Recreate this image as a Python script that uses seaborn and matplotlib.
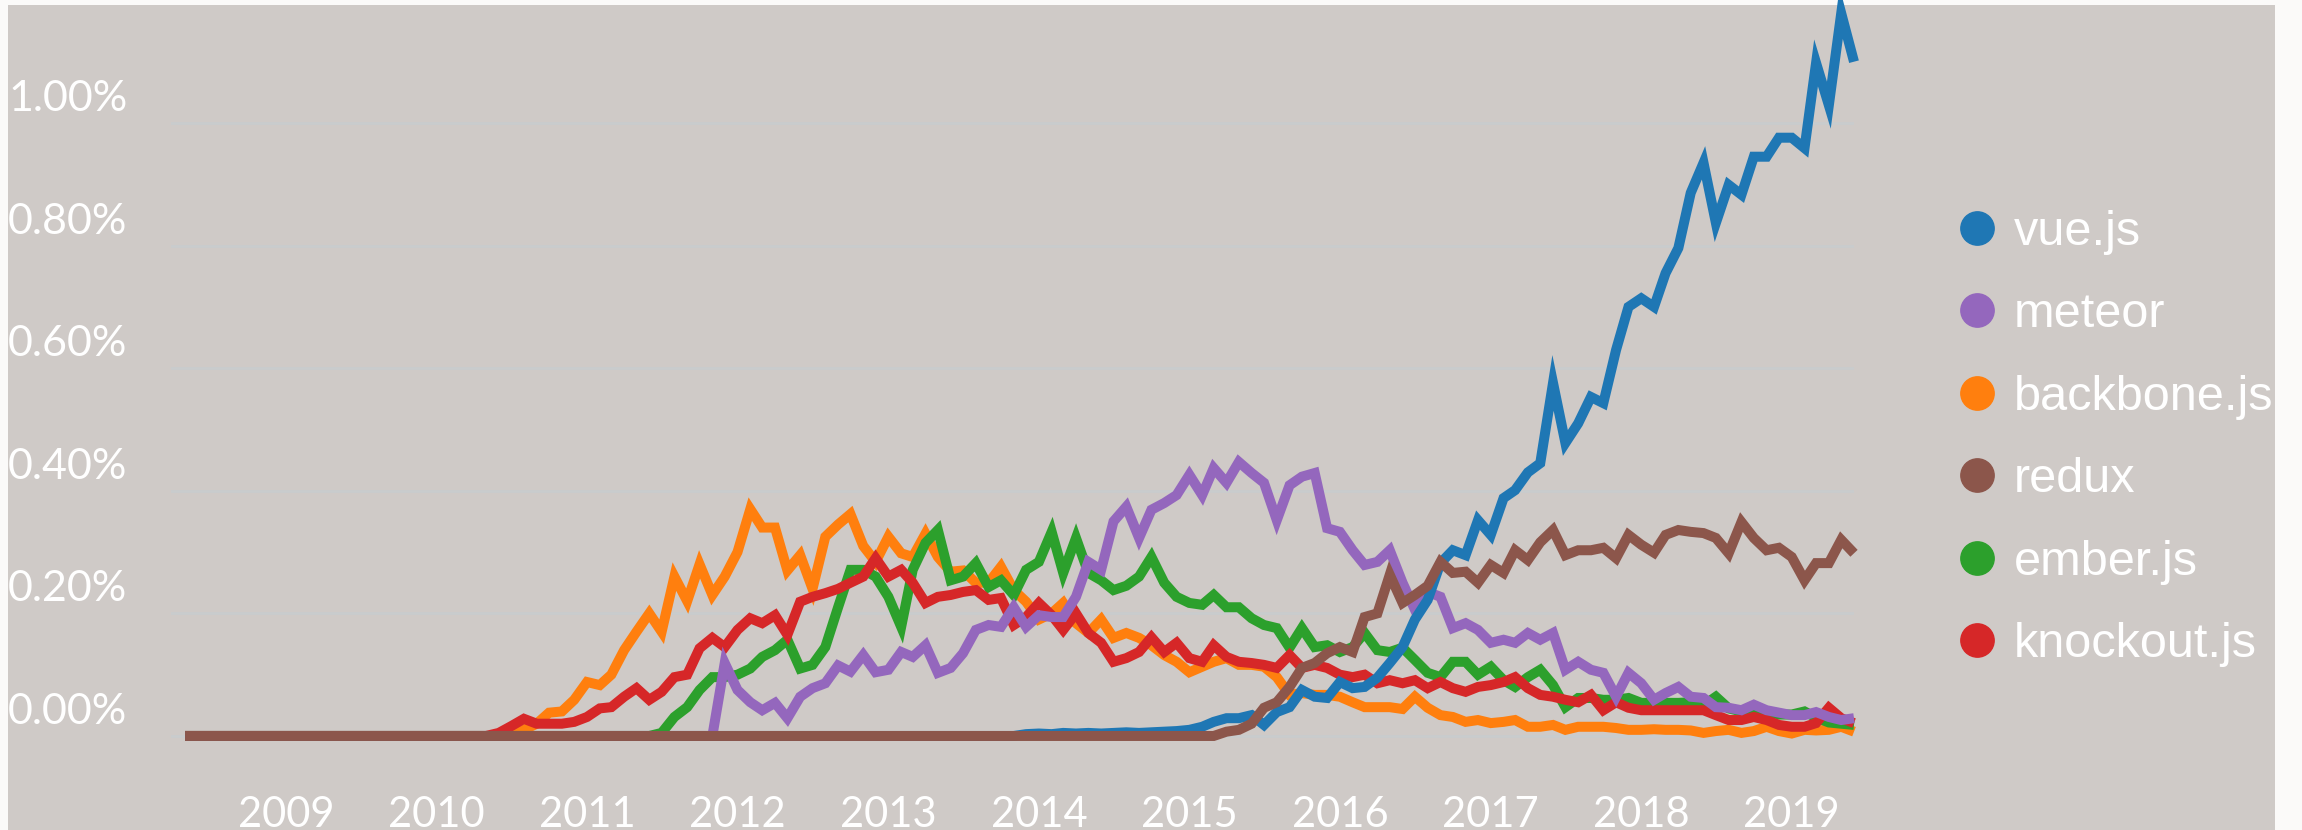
import matplotlib
matplotlib.use("Agg")
import matplotlib.pyplot as plt
import matplotlib.transforms as mtransforms
from matplotlib.lines import Line2D
from matplotlib.patches import Rectangle
import pandas as pd
import seaborn as sns

# monthly share of Stack Overflow questions (%), May 2008 .. Jun 2019
months = pd.date_range("2008-05-01", periods=134, freq="MS")

tags = ["vue.js", "meteor", "backbone.js", "redux", "ember.js", "knockout.js"]
colors = ["#1f77b4", "#9467bd", "#ff7f0e", "#8c564b", "#2ca02c", "#d62728"]
# later in this list = drawn on top
draw_order = ["backbone.js", "ember.js", "knockout.js", "meteor", "vue.js", "redux"]

vue = [
    0, 0, 0, 0, 0, 0, 0, 0,
    0, 0, 0, 0, 0, 0, 0, 0, 0, 0, 0, 0,
    0, 0, 0, 0, 0, 0, 0, 0, 0, 0, 0, 0,
    0, 0, 0, 0, 0, 0, 0, 0, 0, 0, 0, 0,
    0, 0, 0, 0, 0, 0, 0, 0, 0, 0, 0, 0,
    0, 0, 0, 0, 0, 0, 0, 0, 0, 0, 0, 0.003,
    0.004, 0.003, 0.005, 0.004, 0.005, 0.004, 0.005, 0.006, 0.005, 0.006, 0.007, 0.008,
    0.010, 0.015, 0.023, 0.029, 0.029, 0.034, 0.018, 0.039, 0.047, 0.075, 0.064, 0.062,
    0.088, 0.078, 0.080, 0.095, 0.119, 0.145, 0.190, 0.222, 0.282, 0.303, 0.295, 0.352,
    0.328, 0.388, 0.401, 0.430, 0.445, 0.576, 0.478, 0.510, 0.553, 0.543, 0.630, 0.700,
    0.714, 0.700, 0.755, 0.796, 0.886, 0.935, 0.837, 0.899, 0.883, 0.945, 0.945, 0.976,
    0.976, 0.959, 1.098, 1.029, 1.179, 1.100,
]

meteor = [
    0, 0, 0, 0, 0, 0, 0, 0,
    0, 0, 0, 0, 0, 0, 0, 0, 0, 0, 0, 0,
    0, 0, 0, 0, 0, 0, 0, 0, 0, 0, 0, 0,
    0, 0, 0, 0, 0, 0, 0, 0, 0, 0, 0, 0.119,
    0.075, 0.055, 0.042, 0.054, 0.029, 0.064, 0.078, 0.086, 0.115, 0.105, 0.132, 0.104,
    0.108, 0.137, 0.129, 0.148, 0.103, 0.111, 0.135, 0.173, 0.181, 0.178, 0.210, 0.178,
    0.197, 0.194, 0.194, 0.227, 0.284, 0.271, 0.350, 0.374, 0.323, 0.369, 0.380, 0.393,
    0.426, 0.393, 0.437, 0.413, 0.447, 0.429, 0.413, 0.352, 0.409, 0.423, 0.429, 0.339,
    0.333, 0.303, 0.279, 0.284, 0.303, 0.250, 0.206, 0.235, 0.227, 0.176, 0.184, 0.173,
    0.152, 0.157, 0.152, 0.168, 0.157, 0.168, 0.108, 0.121, 0.108, 0.103, 0.064, 0.103,
    0.086, 0.059, 0.070, 0.080, 0.064, 0.062, 0.047, 0.046, 0.042, 0.051, 0.042, 0.038,
    0.034, 0.034, 0.039, 0.031, 0.026, 0.029,
]

backbone = [
    0, 0, 0, 0, 0, 0, 0, 0,
    0, 0, 0, 0, 0, 0, 0, 0, 0, 0, 0, 0,
    0, 0, 0, 0, 0, 0, 0, 0.010, 0.020, 0.038, 0.040, 0.059,
    0.088, 0.083, 0.100, 0.140, 0.170, 0.200, 0.170, 0.260, 0.220, 0.280, 0.230, 0.260,
    0.300, 0.370, 0.340, 0.340, 0.270, 0.295, 0.240, 0.325, 0.345, 0.362, 0.310, 0.284,
    0.325, 0.298, 0.292, 0.330, 0.292, 0.268, 0.270, 0.250, 0.250, 0.276, 0.238, 0.219,
    0.190, 0.200, 0.217, 0.184, 0.168, 0.190, 0.160, 0.168, 0.160, 0.148, 0.132, 0.121,
    0.104, 0.113, 0.121, 0.127, 0.116, 0.116, 0.113, 0.096, 0.067, 0.070, 0.067, 0.067,
    0.064, 0.055, 0.047, 0.047, 0.047, 0.044, 0.064, 0.046, 0.034, 0.031, 0.023, 0.026,
    0.021, 0.023, 0.026, 0.015, 0.015, 0.018, 0.010, 0.015, 0.015, 0.015, 0.013, 0.010,
    0.010, 0.011, 0.010, 0.010, 0.009, 0.005, 0.008, 0.010, 0.005, 0.008, 0.015, 0.008,
    0.004, 0.010, 0.009, 0.010, 0.015, 0.007,
]

redux = [
    0, 0, 0, 0, 0, 0, 0, 0,
    0, 0, 0, 0, 0, 0, 0, 0, 0, 0, 0, 0,
    0, 0, 0, 0, 0, 0, 0, 0, 0, 0, 0, 0,
    0, 0, 0, 0, 0, 0, 0, 0, 0, 0, 0, 0,
    0, 0, 0, 0, 0, 0, 0, 0, 0, 0, 0, 0,
    0, 0, 0, 0, 0, 0, 0, 0, 0, 0, 0, 0,
    0, 0, 0, 0, 0, 0, 0, 0, 0, 0, 0, 0,
    0, 0, 0, 0.007, 0.010, 0.020, 0.046, 0.055, 0.080, 0.111, 0.119, 0.135,
    0.145, 0.137, 0.194, 0.200, 0.263, 0.217, 0.230, 0.245, 0.284, 0.266, 0.268, 0.250,
    0.279, 0.266, 0.303, 0.287, 0.316, 0.336, 0.295, 0.303, 0.303, 0.307, 0.290, 0.328,
    0.312, 0.299, 0.328, 0.336, 0.333, 0.331, 0.323, 0.298, 0.349, 0.323, 0.303, 0.307,
    0.292, 0.254, 0.282, 0.282, 0.320, 0.298,
]

ember = [
    0, 0, 0, 0, 0, 0, 0, 0,
    0, 0, 0, 0, 0, 0, 0, 0, 0, 0, 0, 0,
    0, 0, 0, 0, 0, 0, 0, 0, 0, 0, 0, 0,
    0, 0, 0, 0, 0, 0, 0.005, 0.031, 0.047, 0.075, 0.096, 0.096,
    0.100, 0.110, 0.129, 0.140, 0.157, 0.110, 0.116, 0.145, 0.210, 0.271, 0.271, 0.260,
    0.227, 0.178, 0.271, 0.315, 0.336, 0.254, 0.260, 0.282, 0.243, 0.254, 0.230, 0.271,
    0.284, 0.333, 0.266, 0.323, 0.266, 0.254, 0.238, 0.245, 0.260, 0.292, 0.250, 0.227,
    0.217, 0.214, 0.230, 0.210, 0.210, 0.192, 0.181, 0.176, 0.144, 0.176, 0.145, 0.148,
    0.137, 0.145, 0.168, 0.140, 0.137, 0.144, 0.124, 0.103, 0.096, 0.121, 0.121, 0.100,
    0.113, 0.091, 0.080, 0.096, 0.108, 0.083, 0.047, 0.062, 0.062, 0.059, 0.059, 0.062,
    0.054, 0.054, 0.054, 0.054, 0.055, 0.050, 0.064, 0.045, 0.040, 0.042, 0.040, 0.035,
    0.035, 0.040, 0.030, 0.022, 0.020, 0.018,
]

knockout = [
    0, 0, 0, 0, 0, 0, 0, 0,
    0, 0, 0, 0, 0, 0, 0, 0, 0, 0, 0, 0,
    0, 0, 0, 0, 0, 0.005, 0.016, 0.028, 0.020, 0.020, 0.020, 0.023,
    0.031, 0.045, 0.047, 0.064, 0.078, 0.059, 0.072, 0.096, 0.100, 0.143, 0.160, 0.145,
    0.173, 0.192, 0.184, 0.197, 0.165, 0.219, 0.227, 0.233, 0.240, 0.250, 0.260, 0.290,
    0.260, 0.271, 0.250, 0.217, 0.227, 0.230, 0.235, 0.238, 0.222, 0.225, 0.181, 0.194,
    0.217, 0.197, 0.173, 0.200, 0.168, 0.152, 0.121, 0.127, 0.137, 0.161, 0.137, 0.152,
    0.127, 0.121, 0.148, 0.129, 0.121, 0.119, 0.116, 0.111, 0.132, 0.111, 0.116, 0.111,
    0.100, 0.096, 0.100, 0.086, 0.091, 0.086, 0.091, 0.078, 0.088, 0.078, 0.072, 0.080,
    0.083, 0.088, 0.096, 0.078, 0.067, 0.064, 0.059, 0.055, 0.067, 0.042, 0.055, 0.046,
    0.042, 0.042, 0.042, 0.042, 0.042, 0.042, 0.034, 0.026, 0.026, 0.031, 0.026, 0.018,
    0.015, 0.015, 0.021, 0.046, 0.029, 0.021,
]

year_ticks = pd.to_datetime([f"{y}-01-01" for y in range(2009, 2020)])
year_labels = [str(y) for y in range(2009, 2020)]
pct_ticks = [0.0, 0.2, 0.4, 0.6, 0.8, 1.0]

df = pd.DataFrame({
    "month": months,
    "vue.js": vue,
    "meteor": meteor,
    "backbone.js": backbone,
    "redux": redux,
    "ember.js": ember,
    "knockout.js": knockout,
}).melt(id_vars="month", var_name="tag", value_name="share")

W, H = 2302, 830
BG = "#cfcac7"

sns.set_theme(style="white")
plt.rcParams["font.family"] = ["Lato", "DejaVu Sans"]

fig = plt.figure(figsize=(W / 100, H / 100), dpi=100, facecolor="#fbfaf9")
fig.patches.append(Rectangle((8 / W, 0), (2275 - 8) / W, (H - 5) / H,
                             transform=fig.transFigure, facecolor=BG,
                             edgecolor="none", zorder=-10))

ax = fig.add_axes([171 / W, 70 / H, (1854 - 171) / W, 755 / H])
ax.set_facecolor("none")

sns.lineplot(data=df, x="month", y="share", hue="tag", hue_order=tags,
             palette=colors, linewidth=7.2, estimator=None, legend=False, ax=ax)
for line, tag in zip(ax.lines, tags):
    line.set_zorder(3 + draw_order.index(tag))
    line.set_solid_joinstyle("miter")
    line.set_solid_capstyle("butt")
    line.set_clip_on(False)

ax.set_xlim(months[0] - pd.Timedelta(days=34), months[-1])
ax.set_ylim(-0.0392, 1.1925)

ax.set_yticks(pct_ticks)
ax.set_yticklabels([])
ax.yaxis.grid(True, color="#c9cccd", linewidth=2)
ax.xaxis.grid(False)
ax.tick_params(axis="y", length=0)

ax.set_xticks(year_ticks)
ax.set_xticklabels(year_labels)
ax.tick_params(axis="x", length=0, pad=26, labelsize=30, labelcolor="white")
ax.set_xlabel("")
ax.set_ylabel("")
sns.despine(ax=ax, left=True, bottom=True)

# y labels sit at the left edge, a little above their gridline
label_tf = mtransforms.blended_transform_factory(fig.transFigure, ax.transData) + \
    mtransforms.ScaledTranslation(0, 24 / 100, fig.dpi_scale_trans)
for v in pct_ticks:
    ax.text(8 / W, v, f"{v:.2f}%", transform=label_tf, color="white",
            fontsize=31, ha="left", va="center")

handles = [Line2D([], [], marker="o", linestyle="", markersize=24,
                  markerfacecolor=c, markeredgecolor=c) for c in colors]
fig.legend(handles, tags, loc="upper left", bbox_to_anchor=(1960 / W, 1 - 210 / H),
           frameon=False, handlelength=0.7, handletextpad=0.4, labelspacing=0.77,
           borderpad=0, borderaxespad=0, labelcolor="white",
           prop={"family": ["Liberation Sans", "DejaVu Sans"], "size": 35})

fig.savefig("out.png", dpi=100)
